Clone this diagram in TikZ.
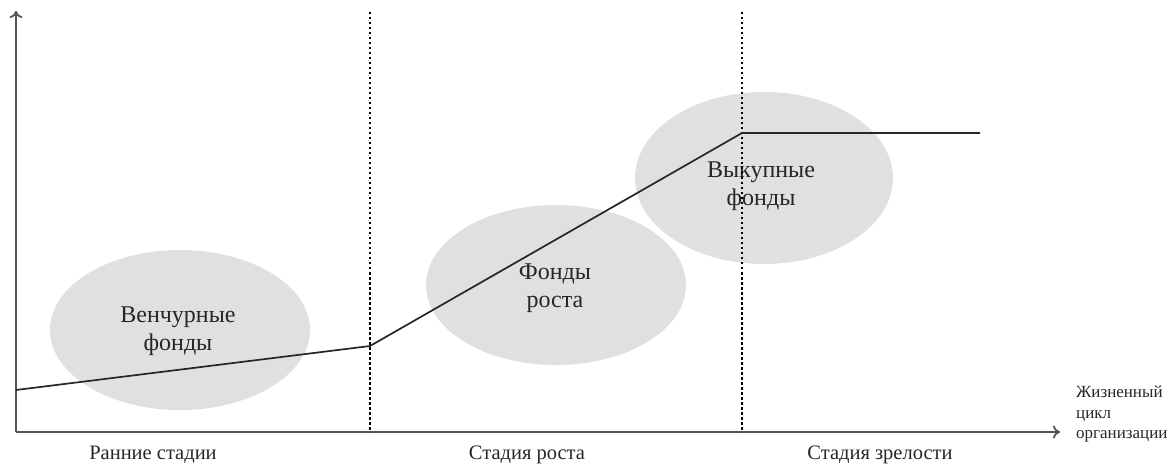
\documentclass[tikz,border=0pt]{standalone}
\usepackage{fontspec}
\setmainfont{Liberation Serif}
\usetikzlibrary{shapes.geometric,arrows.meta}
\definecolor{blobgray}{HTML}{E0E0E0}
\definecolor{axisgray}{HTML}{555555}
\tikzset{
  blob/.style={ellipse, fill=blobgray, draw=none, inner sep=0pt},
  fundtext/.style={align=center, text=black!85, font=\fontsize{24}{27.5}\selectfont},
  stagetext/.style={text=black!85, font=\fontsize{20.5}{24}\selectfont},
  axisline/.style={draw=axisgray, line width=1.8pt, -{To[length=7pt,width=13pt]}},
  divider/.style={line width=1.4pt, dash pattern=on 2.5pt off 2.5pt},
  curve/.style={line width=1.7pt, black!85}
}
\begin{document}
\begin{tikzpicture}[x=1pt,y=-1pt]
\useasboundingbox (0,0) rectangle (1170,465);
% ellipses
\node[blob, minimum width=260pt, minimum height=160pt] (e1) at (180,330) {};
\node[blob, minimum width=260pt, minimum height=160pt] (e2) at (556,285) {};
\node[blob, minimum width=258pt, minimum height=172pt] (e3) at (764,178) {};
% fund labels
\node[fundtext] (t1) at (178,331) {Венчурные\\фонды};
\node[fundtext] (t2) at (555,288) {Фонды\\роста};
\node[fundtext] (t3) at (761,186) {Выкупные\\фонды};
% axes
\coordinate (o) at (16,432);
\coordinate (ytop) at (16,11);
\coordinate (xend) at (1060,432);
\draw[axisline] (o) -- (ytop);
\draw[axisline] (o) -- (xend);
% dividers
\coordinate (d1t) at (370,12);
\coordinate (d1b) at (370,432);
\coordinate (d2t) at (742,12);
\coordinate (d2b) at (742,432);
\draw[divider] (d1t) -- (d1b);
\draw[divider] (d2t) -- (d2b);
% curve
\coordinate (p0) at (16,390);
\coordinate (p1) at (370,346);
\coordinate (p2) at (742,133);
\coordinate (p3) at (980,133);
\draw[curve] (p0) -- (p1) -- (p2) -- (p3);
% stage labels
\node[stagetext] (s1) at (153,455) {Ранние стадии};
\node[stagetext] (s2) at (527,455) {Стадия роста};
\node[stagetext] (s3) at (880,455) {Стадия зрелости};
\node[align=left, anchor=north west, inner sep=0pt, text=black!85, font=\fontsize{17}{20.5}\selectfont] (ax) at (1076,386) {Жизненный\\цикл\\организации};
\end{tikzpicture}
\end{document}
